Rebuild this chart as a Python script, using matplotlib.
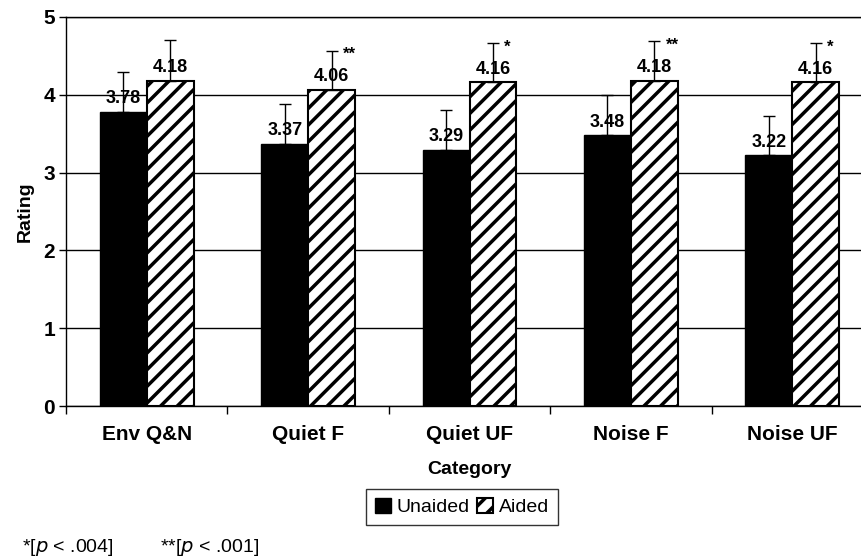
import numpy as np
import matplotlib.pyplot as plt
from matplotlib.ticker import FixedLocator

plt.rcParams['font.family'] = ['Liberation Sans', 'DejaVu Sans']
plt.rcParams['hatch.linewidth'] = 2.5

categorias = ["Env Q&N", "Quiet F", "Quiet UF", "Noise F", "Noise UF"]
sin_audifono = [3.78, 3.37, 3.29, 3.48, 3.22]
con_audifono = [4.18, 4.06, 4.16, 4.18, 4.16]
err_sin = [0.51, 0.51, 0.52, 0.52, 0.51]
err_con = [0.52, 0.50, 0.51, 0.51, 0.51]
marcas = ["", "**", "*", "**", "*"]

fig = plt.figure(figsize=(8.62, 5.59), dpi=100)
ax = fig.add_axes([66/862, 153/559, 807/862, 389/559])

x = np.arange(len(categorias))
w = 0.29

ax.bar(x - w/2, sin_audifono, w, color="black", edgecolor="black", label="Unaided", zorder=3)
ax.bar(x + w/2, con_audifono, w, color="white", edgecolor="black", hatch="//",
       linewidth=1.5, label="Aided", zorder=3)

# solo la mitad superior del error
ax.errorbar(x - w/2, sin_audifono, yerr=[np.zeros(5), err_sin], fmt="none",
            ecolor="black", elinewidth=1, capsize=4, capthick=1, zorder=4)
ax.errorbar(x + w/2, con_audifono, yerr=[np.zeros(5), err_con], fmt="none",
            ecolor="black", elinewidth=1, capsize=4, capthick=1, zorder=4)

for i in range(len(categorias)):
    ax.text(x[i] - w/2, sin_audifono[i] + 0.06, f"{sin_audifono[i]:.2f}", ha="center",
            va="bottom", fontsize=13, fontweight="bold", zorder=5)
    ax.text(x[i] + w/2, con_audifono[i] + 0.06, f"{con_audifono[i]:.2f}", ha="center",
            va="bottom", fontsize=13, fontweight="bold", zorder=5)
    if marcas[i]:
        ax.text(x[i] + w/2 + 0.07, con_audifono[i] + 0.36, marcas[i], ha="left",
                va="bottom", fontsize=12, fontweight="bold", zorder=5)

ax.set_xlim(-0.5, 4.5)
ax.set_ylim(0, 5)
ax.set_yticks(range(6))
ax.tick_params(axis="y", labelsize=15, width=1, length=5, pad=3)
for t in ax.get_yticklabels():
    t.set_fontweight("bold")
ax.yaxis.grid(True, color="black", linewidth=1, zorder=0)
ax.set_axisbelow(True)

ax.set_xticks(x)
ax.set_xticklabels(categorias, fontsize=15, fontweight="bold")
ax.tick_params(axis="x", which="major", length=0, pad=14)
ax.xaxis.set_minor_locator(FixedLocator(np.arange(-0.5, 4.6, 1)))
ax.tick_params(axis="x", which="minor", length=6, width=1)

ax.spines["right"].set_visible(False)
for s in ["left", "bottom", "top"]:
    ax.spines[s].set_linewidth(1)

ax.set_ylabel("Rating", fontsize=14, fontweight="bold", labelpad=7)
ax.set_xlabel("Category", fontsize=14, fontweight="bold", labelpad=12)

leg = fig.legend(loc="center", bbox_to_anchor=(462/862, 1 - 507/559), ncol=2, fontsize=14,
                 frameon=True, fancybox=False, edgecolor="black", handlelength=0.8,
                 handleheight=0.8, handletextpad=0.3, columnspacing=0.4, borderpad=0.45)
leg.get_frame().set_linewidth(1)

fig.text(22/862, 1 - 548/559, r"*[$\it{p}$ < .004]", fontsize=14, va="center", ha="left")
fig.text(160/862, 1 - 548/559, r"**[$\it{p}$ < .001]", fontsize=14, va="center", ha="left")

fig.savefig("out.png", dpi=100)
